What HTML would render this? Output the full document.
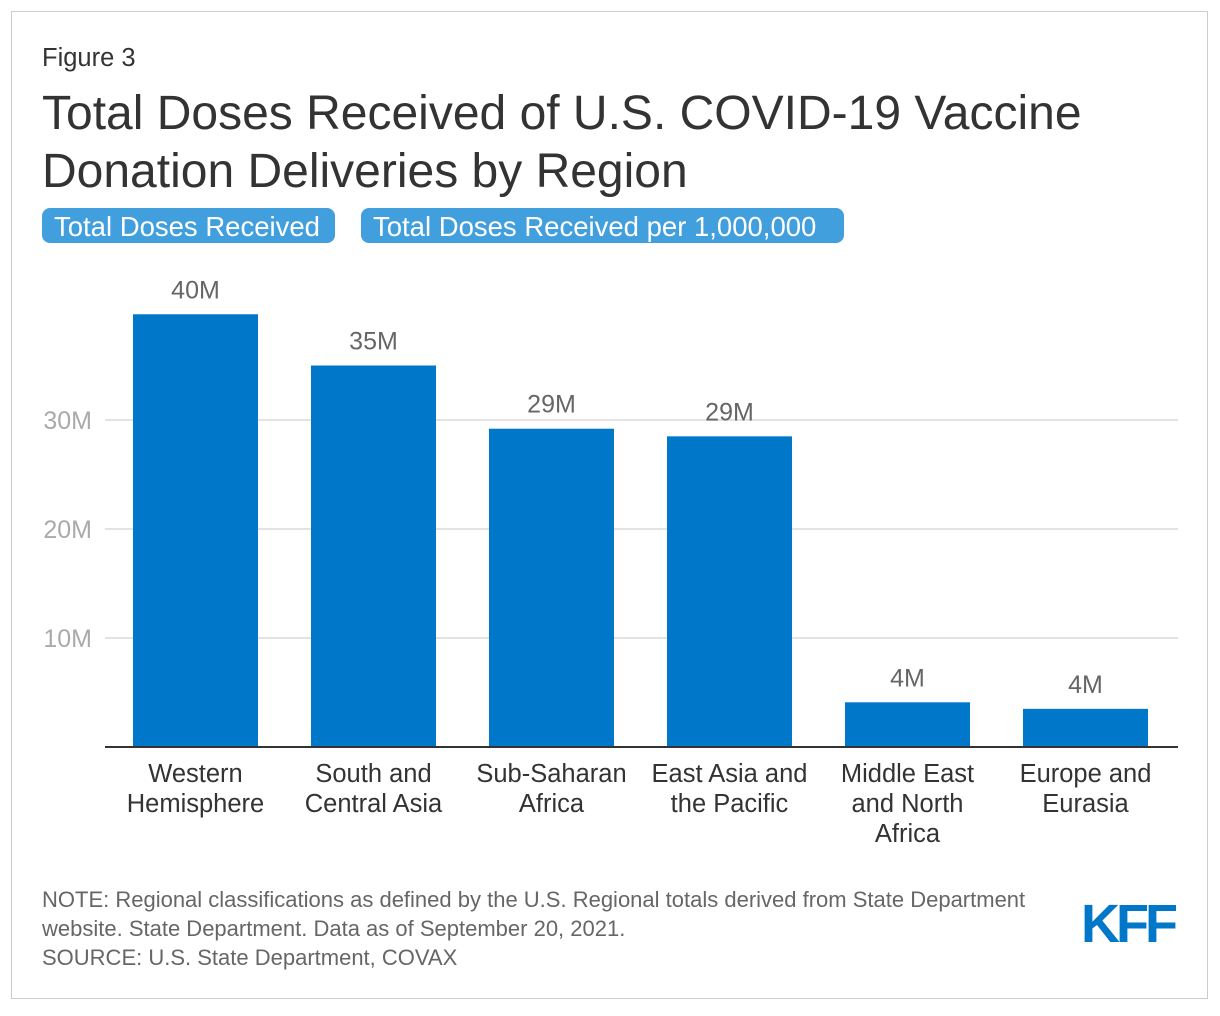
<!DOCTYPE html>
<html><head><meta charset="utf-8"><style>
body{margin:0;width:1220px;height:1016px;background:#fff;font-family:"Liberation Sans",sans-serif;position:relative;overflow:hidden}
.frame{position:absolute;left:11px;top:11px;width:1197px;height:988px;border:1px solid #ccc;box-sizing:border-box}
.t{position:absolute;white-space:nowrap}
.btn{position:absolute;top:208px;height:35px;background:#429fdd;color:#fff;border-radius:8px;font-size:27.5px;line-height:37px;padding:0 12px;box-sizing:border-box}
</style></head><body>
<div class="frame"></div>
<div class="t" style="left:42px;top:44px;font-size:25.5px;color:#333">Figure 3</div>
<div class="t" style="left:42px;top:85px;font-size:48px;line-height:58px;color:#333">Total Doses Received of U.S. COVID-19 Vaccine<br>Donation Deliveries by Region</div>
<div class="btn" style="left:42px;width:293px">Total Doses Received</div>
<div class="btn" style="left:361px;width:483px">Total Doses Received per 1,000,000</div>
<svg id="chart" width="1220" height="1016" style="position:absolute;left:0;top:0" font-family="Liberation Sans, sans-serif"></svg>
<div class="t" style="left:42px;top:885px;font-size:22px;line-height:29px;color:#666">NOTE: Regional classifications as defined by the U.S. Regional totals derived from State Department<br>website. State Department. Data as of September 20, 2021.<br>SOURCE: U.S. State Department, COVAX</div>
<div class="t" style="left:1081px;top:896px;font-size:54px;font-weight:bold;color:#0077c8;letter-spacing:-4px;line-height:56px">KFF</div>
<script>
const categories=[["Western","Hemisphere"],["South and","Central Asia"],["Sub-Saharan","Africa"],["East Asia and","the Pacific"],["Middle East","and North","Africa"],["Europe and","Eurasia"]];
const values=[39.7,35.0,29.2,28.5,4.1,3.5];
const valueLabels=["40M","35M","29M","29M","4M","4M"];
const ticks=[10,20,30];
const tickLabels=["10M","20M","30M"];
const NS="http://www.w3.org/2000/svg";
const svg=document.getElementById('chart');
const y0=747,pxPer=10.9;
const y=v=>y0-v*pxPer;
const x=i=>133+i*178;
const bw=125;
function mk(tag,attrs,txt){const e=document.createElementNS(NS,tag);for(const k in attrs)e.setAttribute(k,attrs[k]);if(txt!==undefined)e.textContent=txt;svg.appendChild(e);return e;}
ticks.forEach((t,i)=>{
  const l=mk('line',{x1:105,x2:1178,y1:y(t),y2:y(t),stroke:'#e3e3e3','stroke-width':2});
  
  
  const tx=mk('text',{x:92,y:y(t)+9,'text-anchor':'end','font-size':25,fill:'#aaa'},tickLabels[i]);
  
  
});
values.forEach((v,i)=>{
  const r=mk('rect',{x:x(i),y:y(v),width:bw,height:y0-y(v),fill:'#0077c8'});
  
  
  const vl=mk('text',{x:x(i)+bw/2,y:y(v)-16,'text-anchor':'middle','font-size':25,fill:'#666'},valueLabels[i]);
  
  
  categories[i].forEach((line,j)=>{
    const c=mk('text',{x:x(i)+bw/2,y:782+j*30,'text-anchor':'middle','font-size':25.5,fill:'#333'},line);
    
    
  });
});
const ax=mk('line',{x1:105,x2:1178,y1:y0,y2:y0,stroke:'#333','stroke-width':2});


</script>
</body></html>
